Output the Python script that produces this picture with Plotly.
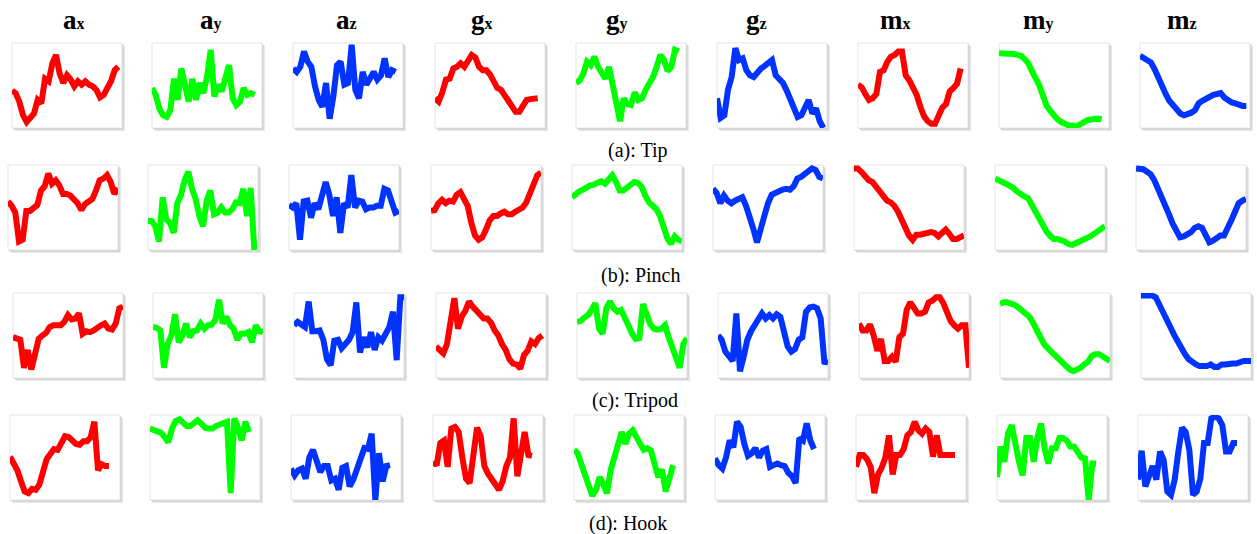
import plotly.graph_objects as go

# ---------------- data (0 = panel bottom, 100 = panel top) -------------
headers = ["a", "a", "a", "g", "g", "g", "m", "m", "m"]
subs = ["x", "y", "z", "x", "y", "z", "x", "y", "z"]
captions = ["(a): Tip", "(b): Pinch", "(c): Tripod", "(d): Hook"]

tip_ax = [44, 41, 31, 15, 7, 11, 17, 33, 29, 58, 55, 76, 86, 64, 53, 62, 57, 49, 55, 51, 55, 51, 49, 45, 36, 39, 47, 55, 68, 72]
tip_ay = [47, 39, 23, 15, 13, 21, 58, 33, 70, 49, 31, 58, 33, 53, 41, 60, 92, 37, 51, 43, 57, 74, 35, 27, 31, 47, 39, 41, 39]
tip_az = [70, 66, 72, 90, 78, 72, 49, 33, 25, 53, 11, 37, 74, 78, 51, 53, 98, 45, 35, 66, 51, 57, 66, 57, 62, 82, 60, 68, 66]
tip_gx = [35, 31, 42, 57, 58, 70, 72, 76, 72, 80, 86, 83, 72, 68, 68, 63, 56, 47, 45, 39, 33, 27, 19, 19, 28, 33, 34, 34, 35]
tip_gy = [53, 56, 64, 78, 74, 84, 72, 64, 58, 72, 50, 22, 8, 35, 28, 27, 42, 33, 35, 45, 53, 60, 72, 86, 80, 67, 72, 92, 90]
tip_gz = [35, 12, 15, 45, 60, 94, 80, 82, 68, 62, 60, 66, 70, 73, 76, 80, 62, 58, 53, 44, 33, 25, 13, 15, 25, 33, 17, 23, 8, 0]
tip_mx = [51, 48, 40, 33, 35, 40, 66, 68, 78, 84, 86, 90, 90, 62, 56, 49, 39, 25, 14, 8, 5, 5, 15, 24, 28, 43, 47, 52, 70]
tip_my = [88, 88, 88, 87, 87, 86, 85, 81, 76, 67, 60, 50, 38, 26, 20, 14, 10, 7, 5, 3, 3, 2, 4, 7, 9, 10, 11, 11, 10]
tip_mz = [85, 82, 80, 77, 69, 58, 49, 40, 32, 26, 21, 17, 15, 16, 18, 21, 29, 32, 35, 37, 39, 40, 41, 36, 32, 30, 29, 27, 26, 26]

pinch_ax = [57, 52, 44, 10, 12, 46, 46, 50, 53, 70, 75, 90, 78, 82, 76, 66, 66, 64, 60, 55, 47, 54, 57, 60, 70, 82, 84, 88, 80, 66, 73]
pinch_ay = [34, 34, 28, 10, 62, 36, 32, 20, 55, 65, 82, 92, 72, 60, 40, 28, 58, 70, 42, 44, 50, 44, 44, 48, 56, 55, 72, 40, 73, 0]
pinch_az = [53, 50, 55, 12, 57, 58, 38, 55, 48, 66, 80, 65, 40, 62, 20, 55, 50, 88, 50, 58, 57, 48, 50, 50, 52, 52, 72, 70, 58, 44, 46]
pinch_gx = [46, 47, 55, 59, 55, 58, 57, 65, 68, 60, 52, 32, 17, 12, 15, 24, 35, 40, 40, 43, 45, 42, 42, 45, 47, 50, 56, 68, 80, 88, 91]
pinch_gy = [62, 66, 69, 71, 74, 76, 77, 79, 81, 78, 82, 88, 80, 70, 70, 73, 77, 80, 79, 74, 64, 56, 52, 48, 40, 27, 14, 7, 16, 12, 10]
pinch_gz = [72, 67, 55, 64, 58, 55, 58, 60, 62, 52, 40, 25, 9, 28, 40, 55, 65, 67, 70, 71, 72, 71, 75, 84, 86, 90, 93, 96, 94, 86, 84]
pinch_mx = [96, 96, 92, 86, 82, 80, 75, 70, 64, 58, 56, 52, 45, 35, 27, 17, 12, 18, 18, 19, 20, 21, 20, 16, 20, 24, 19, 13, 13, 15, 17]
pinch_my = [84, 81, 80, 78, 76, 73, 69, 65, 63, 61, 53, 47, 39, 30, 22, 17, 13, 13, 12, 10, 7, 6, 8, 10, 11, 13, 16, 19, 22, 26, 28]
pinch_mz = [96, 96, 95, 92, 89, 82, 73, 64, 53, 42, 31, 24, 15, 16, 18, 21, 26, 28, 26, 16, 9, 11, 15, 17, 17, 28, 35, 45, 55, 58, 60]

tripod_ax = [48, 47, 45, 12, 33, 10, 25, 46, 50, 53, 60, 62, 62, 62, 66, 74, 69, 70, 76, 52, 55, 54, 56, 60, 62, 64, 58, 57, 64, 82, 84]
tripod_ay = [60, 59, 56, 12, 40, 50, 75, 42, 50, 64, 48, 55, 56, 64, 58, 62, 63, 68, 92, 64, 72, 62, 58, 45, 52, 52, 54, 42, 62, 55, 54]
tripod_az = [62, 66, 63, 60, 90, 55, 55, 56, 45, 22, 15, 44, 45, 35, 40, 45, 54, 89, 30, 48, 36, 54, 33, 48, 44, 54, 60, 78, 21, 95, 95]
tripod_gx = [37, 33, 29, 40, 72, 94, 58, 72, 79, 90, 84, 80, 76, 70, 70, 65, 56, 50, 40, 33, 22, 17, 16, 11, 27, 32, 43, 40, 47, 50]
tripod_gy = [66, 67, 71, 74, 80, 88, 58, 52, 82, 90, 82, 78, 80, 72, 62, 52, 46, 47, 87, 75, 63, 58, 57, 58, 62, 48, 38, 24, 12, 40, 47]
tripod_gz = [50, 45, 31, 25, 20, 76, 8, 25, 45, 55, 62, 66, 76, 70, 74, 70, 75, 72, 50, 37, 31, 34, 45, 48, 78, 83, 84, 82, 70, 19, 18]
tripod_mx = [64, 56, 56, 63, 50, 32, 46, 20, 20, 25, 19, 48, 52, 80, 89, 82, 76, 76, 78, 89, 91, 95, 95, 88, 78, 67, 62, 58, 62, 62, 12]
tripod_my = [87, 89, 89, 88, 86, 83, 80, 76, 72, 65, 56, 48, 40, 35, 31, 27, 22, 17, 14, 10, 8, 10, 12, 16, 19, 26, 28, 28, 25, 21, 20]
tripod_mz = [97, 97, 97, 97, 95, 87, 79, 71, 60, 51, 42, 35, 28, 22, 18, 16, 14, 14, 14, 16, 13, 13, 16, 16, 17, 17, 17, 19, 20, 20, 20]

hook_ax = [51, 43, 35, 22, 10, 8, 13, 12, 18, 33, 48, 54, 60, 59, 68, 75, 74, 70, 66, 65, 69, 69, 74, 92, 35, 42, 40, 40]
hook_ay = [84, 82, 80, 79, 74, 68, 84, 93, 95, 92, 87, 87, 90, 94, 90, 85, 84, 84, 87, 89, 90, 92, 8, 96, 85, 70, 92, 80]
hook_az = [37, 29, 35, 37, 25, 50, 59, 43, 33, 40, 40, 23, 25, 12, 38, 40, 16, 24, 38, 49, 61, 60, 78, 0, 55, 22, 40, 41]
hook_gx = [45, 41, 67, 70, 39, 84, 86, 80, 50, 25, 20, 60, 85, 75, 40, 31, 25, 16, 12, 22, 40, 50, 96, 28, 55, 80, 53, 52]
hook_gy = [59, 55, 42, 29, 19, 5, 12, 27, 18, 8, 35, 52, 68, 80, 66, 78, 82, 73, 67, 59, 61, 58, 42, 27, 36, 10, 25, 41]
hook_gz = [49, 41, 37, 50, 70, 62, 92, 86, 66, 52, 55, 61, 50, 58, 60, 39, 41, 43, 41, 40, 32, 28, 20, 73, 70, 90, 70, 60]
hook_mx = [39, 53, 53, 48, 39, 8, 30, 38, 50, 76, 30, 53, 53, 60, 76, 80, 92, 82, 78, 84, 80, 51, 76, 53, 53, 53, 53, 53]
hook_my = [27, 63, 45, 78, 88, 62, 45, 29, 73, 73, 45, 73, 90, 60, 43, 61, 61, 73, 73, 70, 63, 63, 55, 50, 49, 0, 43, 43]
hook_mz = [24, 58, 16, 30, 40, 24, 57, 47, 10, 6, 24, 57, 85, 80, 59, 6, 10, 25, 67, 67, 96, 98, 96, 88, 57, 57, 67, 67]

rows = [
    [tip_ax, tip_ay, tip_az, tip_gx, tip_gy, tip_gz, tip_mx, tip_my, tip_mz],
    [pinch_ax, pinch_ay, pinch_az, pinch_gx, pinch_gy, pinch_gz, pinch_mx, pinch_my, pinch_mz],
    [tripod_ax, tripod_ay, tripod_az, tripod_gx, tripod_gy, tripod_gz, tripod_mx, tripod_my, tripod_mz],
    [hook_ax, hook_ay, hook_az, hook_gx, hook_gy, hook_gz, hook_mx, hook_my, hook_mz],
]

# ---------------- layout / style ----------------
W, H = 1257, 534
col_lefts = [12, 152, 293, 435, 576, 717, 858, 999, 1140]
row_shift = [0, -4, 1, -2]
row_tops = [43, 165, 293, 415]
PW, PH = 110, 85
colors = ["#ff0000", "#00ff00", "#0033ff"]
header_x = [74, 211, 346, 482, 617, 756, 895, 1038, 1182]
header_y = 20
caption_pos = [(637, 150), (640, 275), (635, 400), (628, 523)]
SERIF = "Liberation Serif, Times New Roman, serif"

fig = go.Figure()
layout = {}
shapes = []
k = 0
for r in range(4):
    for c in range(9):
        k += 1
        x0 = col_lefts[c] + row_shift[r]
        x1 = x0 + PW
        y0 = row_tops[r]
        y1 = y0 + PH
        xs = "" if k == 1 else str(k)
        layout["xaxis" + xs] = dict(domain=[x0 / W, x1 / W], range=[0, 30], visible=False,
                                    anchor="y" + xs, fixedrange=True)
        layout["yaxis" + xs] = dict(domain=[1 - y1 / H, 1 - y0 / H], range=[0, 100], visible=False,
                                    anchor="x" + xs, fixedrange=True)
        vals = rows[r][c]
        fig.add_trace(go.Scatter(x=list(range(len(vals))), y=vals, mode="lines",
                                 line=dict(color=colors[c % 3], width=6),
                                 xaxis="x" + xs, yaxis="y" + xs, hoverinfo="skip"))
        # soft shadow + frame
        for off, col in [(3, "#e8e8e8"), (2, "#d8d8d8"), (1, "#cacaca")]:
            shapes.append(dict(type="rect", xref="paper", yref="paper", layer="below",
                               x0=(x0 + off) / W, x1=(x1 + off) / W,
                               y0=1 - (y1 + off) / H, y1=1 - (y0 + off) / H,
                               fillcolor=col, line=dict(width=0)))
        shapes.append(dict(type="rect", xref="paper", yref="paper", layer="below",
                           x0=x0 / W, x1=x1 / W, y0=1 - y1 / H, y1=1 - y0 / H,
                           fillcolor="white", line=dict(color="#e6e6e6", width=1)))

annotations = []
for i in range(9):
    annotations.append(dict(x=header_x[i] / W, y=1 - header_y / H, xref="paper", yref="paper",
                            xanchor="center", yanchor="middle", showarrow=False,
                            text=f"<b>{headers[i]}<span style='font-size:16px'>{subs[i]}</span></b>",
                            font=dict(family=SERIF, size=27, color="black")))
for i, (cx, cy) in enumerate(caption_pos):
    annotations.append(dict(x=cx / W, y=1 - cy / H, xref="paper", yref="paper",
                            xanchor="center", yanchor="middle", showarrow=False,
                            text=captions[i], font=dict(family=SERIF, size=20, color="black")))

fig.update_layout(width=W, height=H, margin=dict(l=0, r=0, t=0, b=0),
                  paper_bgcolor="white", plot_bgcolor="rgba(0,0,0,0)",
                  showlegend=False, shapes=shapes, annotations=annotations, **layout)

fig.write_html("out.html", config={"displayModeBar": False},
               post_script="document.body.style.margin='0px';document.body.style.overflow='hidden';")
